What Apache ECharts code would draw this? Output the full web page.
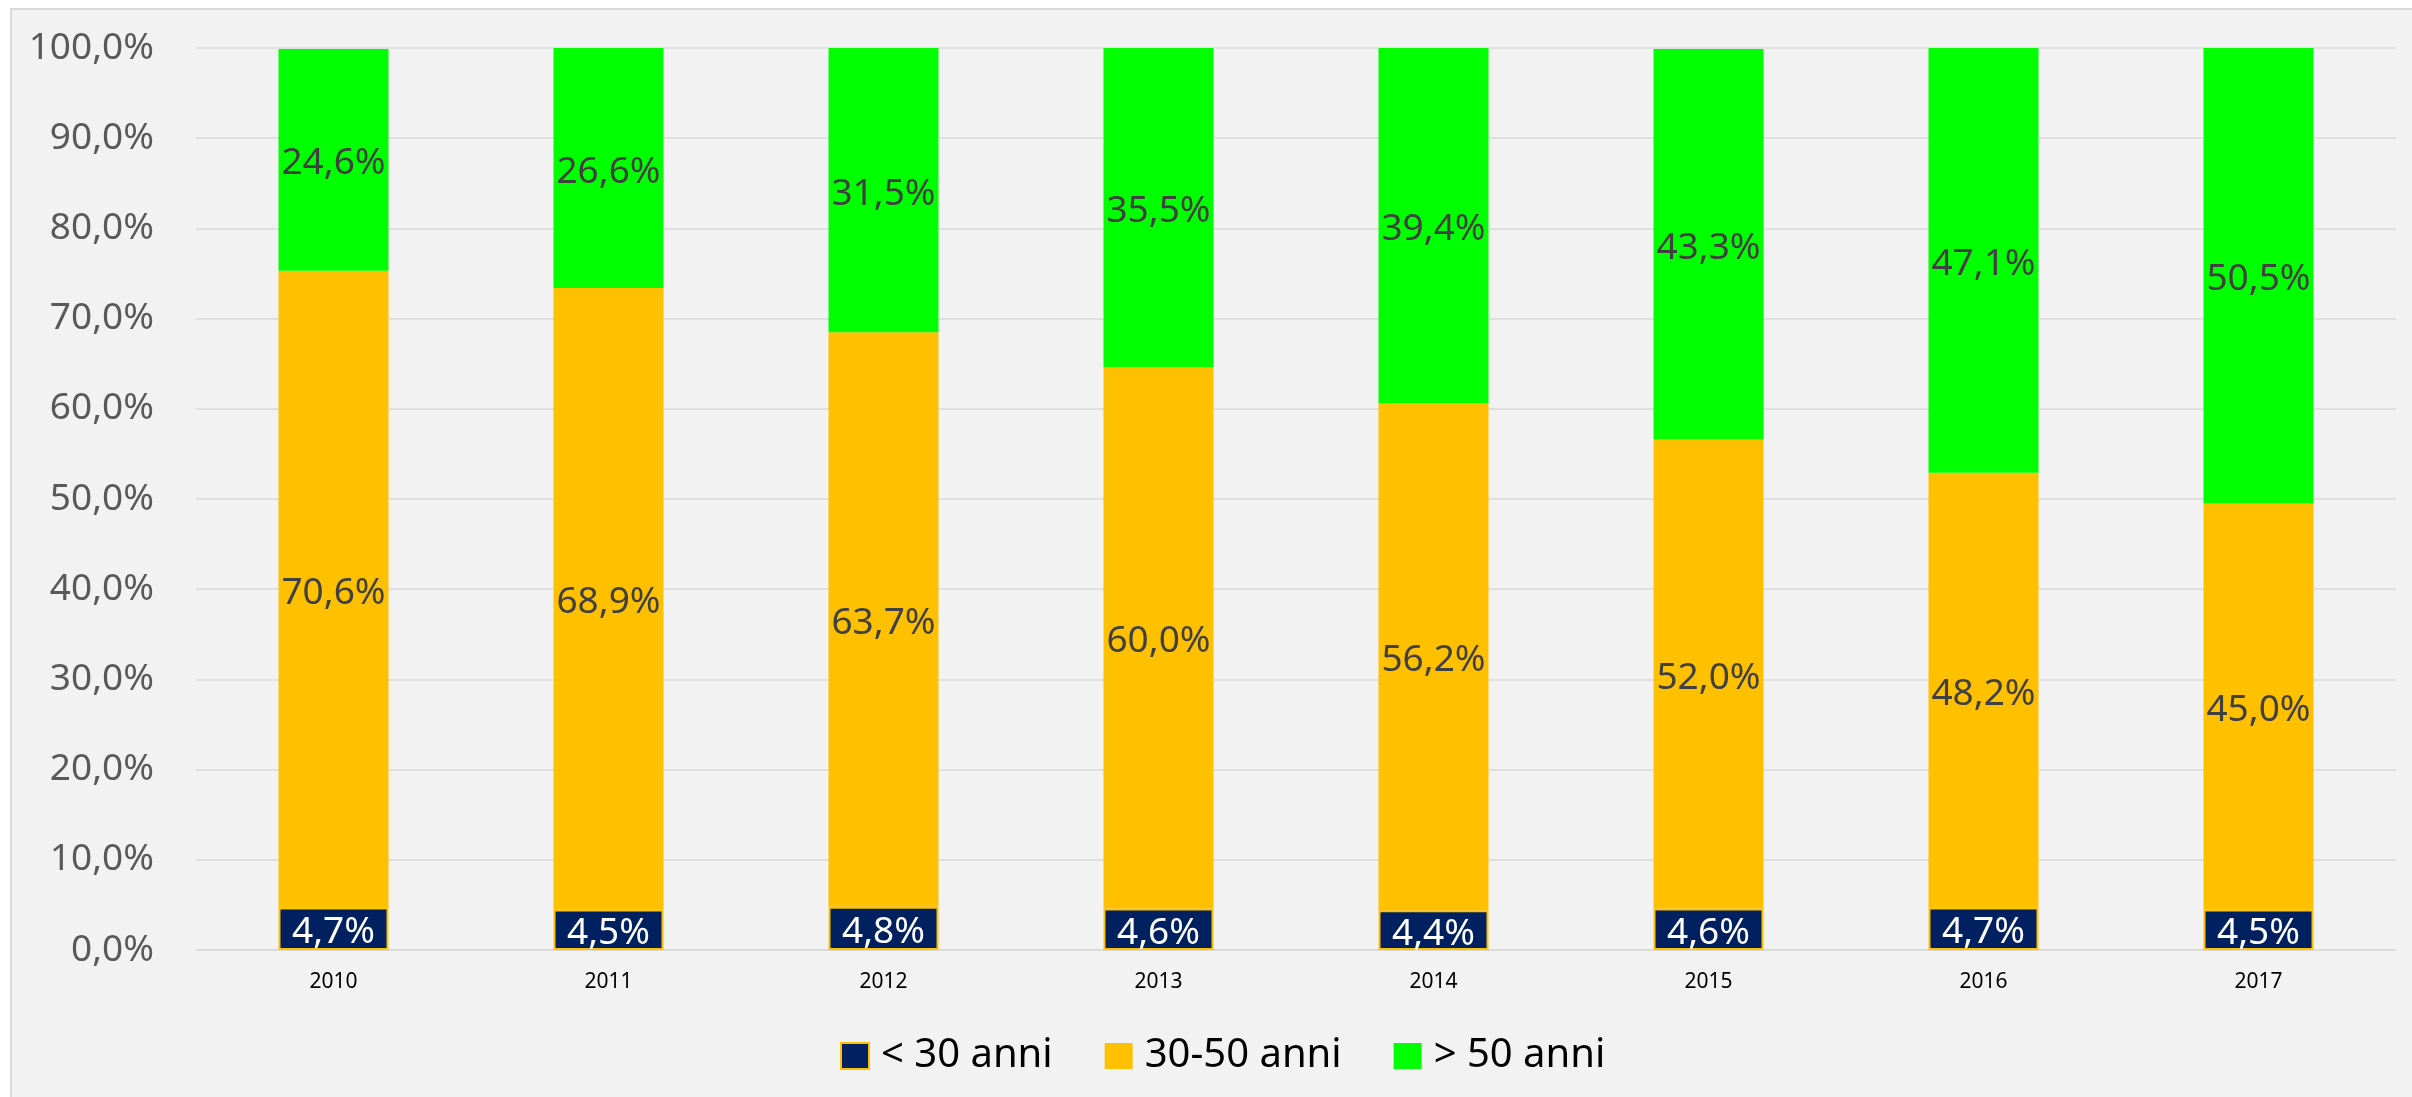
<!DOCTYPE html>
<html>
<head>
<meta charset="utf-8">
<script src="https://cdn.jsdelivr.net/npm/echarts@6/dist/echarts.min.js"></script>
<style>
html,body{margin:0;padding:0;background:#ffffff;}
#c{width:2412px;height:1097px;}
</style>
</head>
<body>
<div id="c"></div>
<script>
const categories = ['2010','2011','2012','2013','2014','2015','2016','2017'];
const under30 = [4.7, 4.5, 4.8, 4.6, 4.4, 4.6, 4.7, 4.5];
const from30to50 = [70.6, 68.9, 63.7, 60.0, 56.2, 52.0, 48.2, 45.0];
const over50 = [24.6, 26.6, 31.5, 35.5, 39.4, 43.3, 47.1, 50.5];
const seriesNames = ['< 30 anni', '30-50 anni', '> 50 anni'];
const yTicks = [0, 10, 20, 30, 40, 50, 60, 70, 80, 90, 100];

const FONT = '"Noto Sans", "Open Sans", sans-serif';
const fmt = v => Number(v).toFixed(1).replace('.', ',') + '%';

const chart = echarts.init(document.getElementById('c'), null, {renderer: 'canvas'});

function labelCfg(color) {
  return {
    show: true,
    position: 'inside',
    offset: [0, 4],
    color: color,
    fontFamily: FONT,
    fontSize: 37,
    formatter: p => fmt(p.value)
  };
}

const option = {
  backgroundColor: 'transparent',
  animation: false,
  graphic: [{
    type: 'rect',
    z: -10,
    silent: true,
    shape: {x: 11, y: 9, width: 2440, height: 1120},
    style: {fill: '#f2f2f2', stroke: '#d9d9d9', lineWidth: 2}
  }],
  grid: {left: 196, right: 16, top: 48, bottom: 147, containLabel: false},
  legend: {
    left: 835,
    top: 1031,
    icon: 'rect',
    itemWidth: 28,
    itemHeight: 26,
    itemGap: 52,
    textStyle: {fontFamily: FONT, fontSize: 40, color: '#000000', padding: [0, 0, 0, 7]},
    data: seriesNames
  },
  xAxis: {
    type: 'category',
    data: categories,
    axisLine: {show: true, lineStyle: {color: '#d9d9d9', width: 1.5}},
    axisTick: {show: false},
    axisLabel: {fontFamily: FONT, fontSize: 21, color: '#000000', margin: 22, lineHeight: 21}
  },
  yAxis: {
    type: 'value',
    min: 0,
    max: 100,
    interval: 10,
    axisLine: {show: false},
    axisTick: {show: false},
    splitLine: {show: true, lineStyle: {color: '#d9d9d9', width: 1.5}},
    axisLabel: {
      fontFamily: FONT, fontSize: 37, color: '#595959', margin: 42,
      formatter: v => yTicks.indexOf(v) >= 0 ? fmt(v) : ''
    }
  },
  series: [
    {
      name: seriesNames[0], type: 'bar', stack: 'total', barWidth: '40%',
      data: under30,
      itemStyle: {color: '#002060', borderColor: '#FFC000', borderWidth: 2},
      label: labelCfg('#ffffff')
    },
    {
      name: seriesNames[1], type: 'bar', stack: 'total', barWidth: '40%',
      data: from30to50,
      itemStyle: {color: '#FFC000'},
      label: labelCfg('#404040')
    },
    {
      name: seriesNames[2], type: 'bar', stack: 'total', barWidth: '40%',
      data: over50,
      itemStyle: {color: '#00FF00'},
      label: labelCfg('#404040')
    }
  ]
};
chart.setOption(option);
</script>
</body>
</html>
